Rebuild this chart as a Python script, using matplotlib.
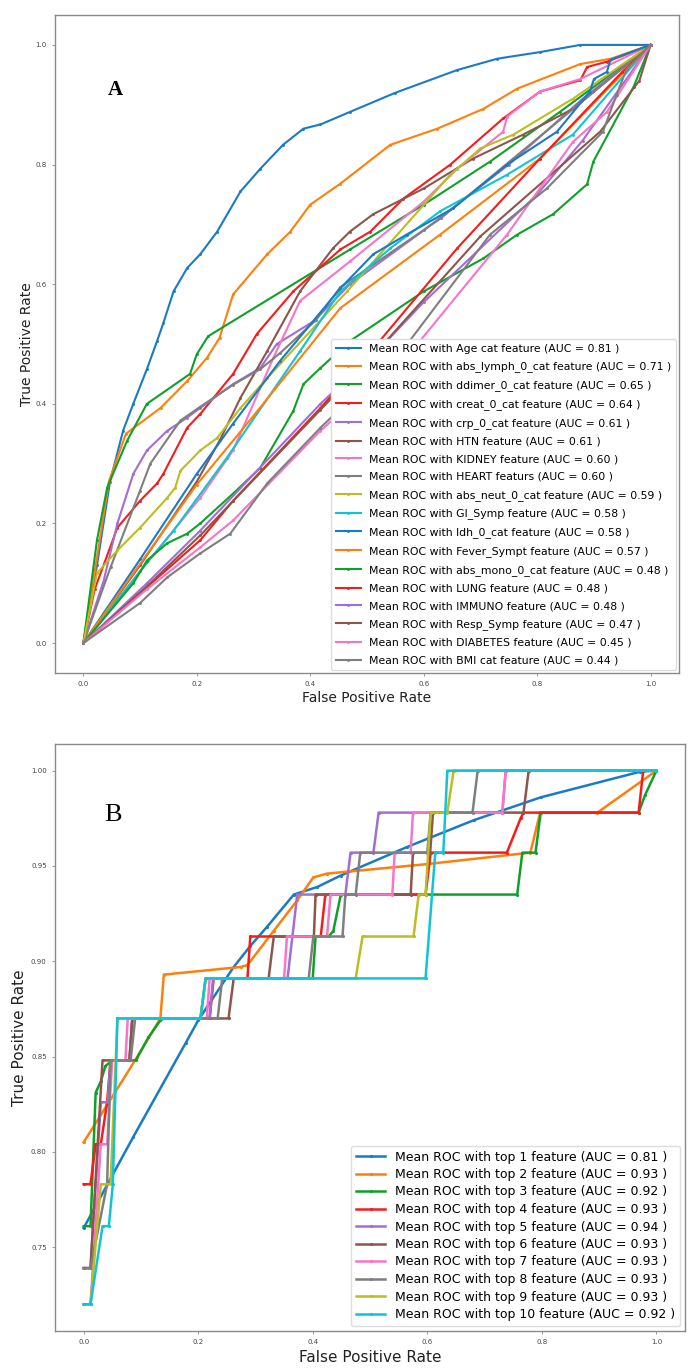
import matplotlib
matplotlib.use('Agg')
import matplotlib.pyplot as plt

# ---- panel A: mean ROC per single feature ----
a_names = ['Age cat', 'abs_lymph_0_cat', 'ddimer_0_cat', 'creat_0_cat', 'crp_0_cat', 'HTN',
           'KIDNEY', 'HEART', 'abs_neut_0_cat', 'GI_Symp', 'ldh_0_cat', 'Fever_Sympt',
           'abs_mono_0_cat', 'LUNG', 'IMMUNO', 'Resp_Symp', 'DIABETES', 'BMI cat']
a_auc = ['0.81', '0.71', '0.65', '0.64', '0.61', '0.61', '0.60', '0.60', '0.59',
         '0.58', '0.58', '0.57', '0.48', '0.48', '0.48', '0.47', '0.45', '0.44']
a_word = ['feature'] * 7 + ['featurs'] + ['feature'] * 10

a_fpr = [
    [0, 0.024, 0.047, 0.07, 0.088, 0.112, 0.13, 0.141, 0.159, 0.183, 0.206, 0.236, 0.277, 0.312, 0.352, 0.388, 0.418, 0.47, 0.55, 0.659, 0.73, 0.805, 0.876, 1.0],
    [0, 0.02, 0.045, 0.075, 0.136, 0.183, 0.218, 0.24, 0.264, 0.324, 0.365, 0.40, 0.453, 0.541, 0.624, 0.705, 0.765, 0.876, 0.93, 1.0],
    [0, 0.024, 0.042, 0.077, 0.112, 0.188, 0.2, 0.22, 0.47, 0.6, 0.717, 0.84, 1.0],
    [0, 0.02, 0.06, 0.1, 0.13, 0.141, 0.183, 0.206, 0.264, 0.306, 0.37, 0.453, 0.506, 0.564, 0.647, 0.74, 0.805, 0.876, 0.888, 0.923, 1.0],
    [0, 0.036, 0.06, 0.088, 0.112, 0.148, 0.183, 0.206, 0.264, 0.312, 0.341, 0.406, 0.47, 0.6, 0.75, 0.88, 1.0],
    [0, 0.1, 0.2, 0.241, 0.277, 0.324, 0.382, 0.44, 0.47, 0.511, 0.6, 0.687, 0.775, 0.863, 1.0],
    [0, 0.1, 0.206, 0.264, 0.335, 0.382, 0.47, 0.6, 0.659, 0.74, 0.747, 0.805, 0.876, 1.0],
    [0, 0.048, 0.1, 0.118, 0.171, 0.206, 0.264, 0.312, 0.347, 0.41, 0.453, 0.63, 1.0],
    [0, 0.024, 0.06, 0.1, 0.148, 0.162, 0.171, 0.206, 0.236, 0.277, 0.324, 0.465, 0.647, 0.70, 0.758, 0.863, 1.0],
    [0, 0.1, 0.159, 0.253, 0.382, 0.453, 0.541, 0.629, 0.747, 0.863, 1.0],
    [0, 0.1, 0.2, 0.264, 0.347, 0.453, 0.511, 0.57, 0.652, 0.747, 0.835, 0.893, 0.9, 0.923, 0.929, 1.0],
    [0, 0.2, 0.3, 0.453, 0.629, 0.805, 1.0],
    [0, 0.088, 0.112, 0.148, 0.183, 0.206, 0.264, 0.312, 0.37, 0.388, 0.418, 0.47, 0.6, 0.705, 0.765, 0.828, 0.888, 0.899, 0.97, 1.0],
    [0, 0.206, 0.264, 0.418, 0.518, 0.659, 0.805, 0.95, 1.0],
    [0, 0.112, 0.206, 0.418, 0.53, 0.6, 0.8, 0.88, 1.0],
    [0, 0.112, 0.206, 0.418, 0.529, 0.7, 0.911, 0.98, 1.0],
    [0, 0.112, 0.206, 0.264, 0.418, 0.589, 0.747, 0.863, 0.923, 1.0],
    [0, 0.1, 0.148, 0.206, 0.259, 0.324, 0.418, 0.571, 0.717, 0.817, 0.916, 0.94, 0.958, 1.0],
]
a_tpr = [
    [0, 0.13, 0.27, 0.355, 0.40, 0.458, 0.505, 0.535, 0.588, 0.627, 0.65, 0.688, 0.755, 0.793, 0.833, 0.86, 0.867, 0.888, 0.92, 0.958, 0.977, 0.988, 1.0, 1.0],
    [0, 0.12, 0.27, 0.35, 0.393, 0.438, 0.477, 0.51, 0.583, 0.65, 0.688, 0.733, 0.768, 0.833, 0.86, 0.893, 0.927, 0.968, 0.977, 1.0],
    [0, 0.172, 0.26, 0.338, 0.40, 0.45, 0.483, 0.513, 0.658, 0.733, 0.805, 0.888, 1.0],
    [0, 0.09, 0.193, 0.238, 0.267, 0.283, 0.36, 0.383, 0.45, 0.517, 0.588, 0.658, 0.688, 0.743, 0.80, 0.877, 0.922, 0.941, 0.963, 0.972, 1.0],
    [0, 0.105, 0.2, 0.283, 0.322, 0.355, 0.377, 0.393, 0.433, 0.46, 0.50, 0.538, 0.60, 0.69, 0.80, 0.91, 1.0],
    [0, 0.13, 0.27, 0.34, 0.41, 0.488, 0.588, 0.66, 0.688, 0.717, 0.76, 0.81, 0.85, 0.893, 1.0],
    [0, 0.12, 0.243, 0.322, 0.477, 0.572, 0.638, 0.738, 0.793, 0.855, 0.88, 0.922, 0.943, 1.0],
    [0, 0.127, 0.255, 0.30, 0.372, 0.395, 0.432, 0.458, 0.485, 0.54, 0.595, 0.71, 1.0],
    [0, 0.117, 0.155, 0.193, 0.243, 0.26, 0.288, 0.322, 0.343, 0.393, 0.443, 0.588, 0.783, 0.827, 0.85, 0.91, 1.0],
    [0, 0.12, 0.188, 0.31, 0.488, 0.588, 0.66, 0.722, 0.783, 0.85, 1.0],
    [0, 0.14, 0.283, 0.367, 0.472, 0.593, 0.65, 0.683, 0.727, 0.80, 0.855, 0.922, 0.943, 0.955, 0.975, 1.0],
    [0, 0.265, 0.38, 0.56, 0.683, 0.81, 1.0],
    [0, 0.1, 0.138, 0.167, 0.183, 0.20, 0.25, 0.293, 0.388, 0.433, 0.46, 0.505, 0.588, 0.643, 0.683, 0.717, 0.767, 0.805, 0.93, 1.0],
    [0, 0.172, 0.238, 0.393, 0.50, 0.66, 0.81, 0.955, 1.0],
    [0, 0.10, 0.188, 0.40, 0.50, 0.57, 0.75, 0.84, 1.0],
    [0, 0.095, 0.18, 0.39, 0.50, 0.68, 0.855, 0.94, 1.0],
    [0, 0.09, 0.16, 0.205, 0.355, 0.50, 0.683, 0.838, 0.888, 1.0],
    [0, 0.067, 0.11, 0.15, 0.183, 0.267, 0.36, 0.50, 0.683, 0.76, 0.855, 0.917, 0.96, 1.0],
]

# ---- panel B: mean ROC with top-n features ----
b_topn = [1, 2, 3, 4, 5, 6, 7, 8, 9, 10]
b_auc = ['0.81', '0.93', '0.92', '0.93', '0.94', '0.93', '0.93', '0.93', '0.93', '0.92']

b_fpr = [
    [0, 0.087, 0.178, 0.2, 0.262, 0.291, 0.32, 0.367, 0.408, 0.449, 0.565, 0.681, 0.798, 0.972, 1.0],
    [0, 0.094, 0.134, 0.14, 0.274, 0.286, 0.332, 0.373, 0.401, 0.425, 0.60, 0.78, 0.797, 0.897, 1.0],
    [0, 0.012, 0.021, 0.03, 0.038, 0.05, 0.091, 0.113, 0.134, 0.14, 0.204, 0.213, 0.40, 0.405, 0.428, 0.436, 0.449, 0.757, 0.766, 0.789, 0.798, 0.969, 0.98, 1.0],
    [0, 0.012, 0.021, 0.03, 0.041, 0.047, 0.08, 0.085, 0.22, 0.227, 0.286, 0.291, 0.414, 0.422, 0.597, 0.606, 0.739, 0.763, 0.768, 0.969, 0.977, 1.0],
    [0, 0.012, 0.03, 0.042, 0.047, 0.08, 0.085, 0.22, 0.226, 0.356, 0.373, 0.457, 0.466, 0.506, 0.515, 0.731, 0.737, 1.0],
    [0, 0.012, 0.033, 0.08, 0.085, 0.253, 0.262, 0.323, 0.332, 0.402, 0.405, 0.571, 0.575, 0.605, 0.61, 0.768, 0.777, 1.0],
    [0, 0.012, 0.03, 0.041, 0.05, 0.073, 0.077, 0.215, 0.22, 0.35, 0.355, 0.425, 0.431, 0.539, 0.543, 0.571, 0.575, 0.731, 0.737, 1.0],
    [0, 0.012, 0.041, 0.047, 0.082, 0.09, 0.234, 0.242, 0.393, 0.401, 0.452, 0.457, 0.475, 0.483, 0.60, 0.606, 0.679, 0.688, 1.0],
    [0, 0.012, 0.03, 0.047, 0.059, 0.204, 0.213, 0.475, 0.487, 0.576, 0.585, 0.597, 0.606, 0.635, 0.646, 1.0],
    [0, 0.012, 0.033, 0.044, 0.051, 0.059, 0.204, 0.213, 0.597, 0.614, 0.628, 0.635, 1.0],
]
b_tpr = [
    [0.76, 0.808, 0.857, 0.869, 0.897, 0.908, 0.918, 0.935, 0.939, 0.945, 0.96, 0.974, 0.986, 0.9995, 1.0],
    [0.805, 0.85, 0.870, 0.893, 0.897, 0.898, 0.916, 0.932, 0.944, 0.946, 0.951, 0.957, 0.978, 0.978, 1.0],
    [0.761, 0.761, 0.831, 0.837, 0.845, 0.848, 0.848, 0.86, 0.869, 0.870, 0.870, 0.891, 0.891, 0.913, 0.913, 0.916, 0.935, 0.935, 0.957, 0.957, 0.978, 0.978, 0.987, 1.0],
    [0.783, 0.783, 0.804, 0.804, 0.826, 0.848, 0.848, 0.870, 0.870, 0.891, 0.891, 0.913, 0.913, 0.935, 0.935, 0.957, 0.957, 0.975, 0.978, 0.978, 1.0, 1.0],
    [0.739, 0.739, 0.826, 0.826, 0.848, 0.848, 0.870, 0.870, 0.891, 0.891, 0.935, 0.935, 0.957, 0.957, 0.978, 0.978, 1.0, 1.0],
    [0.739, 0.739, 0.848, 0.848, 0.870, 0.870, 0.891, 0.891, 0.913, 0.913, 0.935, 0.935, 0.957, 0.957, 0.978, 0.978, 1.0, 1.0],
    [0.72, 0.72, 0.804, 0.804, 0.848, 0.848, 0.870, 0.870, 0.891, 0.891, 0.913, 0.913, 0.935, 0.935, 0.957, 0.957, 0.978, 0.978, 1.0, 1.0],
    [0.739, 0.739, 0.783, 0.848, 0.848, 0.870, 0.870, 0.891, 0.891, 0.913, 0.913, 0.935, 0.935, 0.957, 0.957, 0.978, 0.978, 1.0, 1.0],
    [0.72, 0.72, 0.783, 0.783, 0.870, 0.870, 0.891, 0.891, 0.913, 0.913, 0.935, 0.935, 0.978, 0.978, 1.0, 1.0],
    [0.72, 0.72, 0.761, 0.761, 0.783, 0.870, 0.870, 0.891, 0.891, 0.957, 0.957, 1.0, 1.0],
]

# a bit brighter than plain tab10, like the scanned figure
colors = ['#1a7bc4', '#ff7f0e', '#0fa02a', '#f51c1c', '#a36dd2',
          '#8c564b', '#f774c9', '#7f7f7f', '#bcbd22', '#10c5d3']

W, H = 696, 1372
fig = plt.figure(figsize=(W / 100, H / 100), dpi=100)


def style_axes(ax, tick_size):
    for s in ax.spines.values():
        s.set_color('#8a8a8a')
        s.set_linewidth(1.0)
    ax.tick_params(labelsize=tick_size, length=2, width=0.6, color='#8a8a8a', labelcolor='#444444', pad=4)


# panel A
ax_a = fig.add_axes([55 / W, 1 - 673 / H, 624 / W, 658 / H])
for i in range(len(a_names)):
    lbl = 'Mean ROC with %s %s (AUC = %s )' % (a_names[i], a_word[i], a_auc[i])
    ax_a.plot(a_fpr[i], a_tpr[i], color=colors[i % 10], lw=1.5, marker='.', ms=2.2, label=lbl)
ax_a.set_xlim(-0.05, 1.05)
ax_a.set_ylim(-0.05, 1.05)
ax_a.set_xticks([0, 0.2, 0.4, 0.6, 0.8, 1.0])
ax_a.set_yticks([0, 0.2, 0.4, 0.6, 0.8, 1.0])
style_axes(ax_a, 5)
ax_a.set_xlabel('False Positive Rate', fontsize=10, color='#222222', labelpad=3)
ax_a.set_ylabel('True Positive Rate', fontsize=10, color='#222222', labelpad=1)
ax_a.legend(loc='lower right', fontsize=7.8, handlelength=2.3, labelspacing=0.72,
            borderaxespad=0.3, framealpha=1.0, edgecolor='#dddddd', fancybox=True)

# panel B
ax_b = fig.add_axes([55 / W, 1 - 1331 / H, 630 / W, 587 / H])
for i in range(len(b_topn)):
    lbl = 'Mean ROC with top %d feature (AUC = %s )' % (b_topn[i], b_auc[i])
    ax_b.plot(b_fpr[i], b_tpr[i], color=colors[i], lw=1.8, marker='.', ms=2.5, label=lbl)
ax_b.set_xlim(-0.05, 1.05)
ax_b.set_ylim(0.706, 1.014)
ax_b.set_xticks([0, 0.2, 0.4, 0.6, 0.8, 1.0])
ax_b.set_yticks([0.75, 0.80, 0.85, 0.90, 0.95, 1.00])
style_axes(ax_b, 5)
ax_b.set_xlabel('False Positive Rate', fontsize=11, color='#222222', labelpad=3)
ax_b.set_ylabel('True Positive Rate', fontsize=11, color='#222222', labelpad=3)
ax_b.legend(loc='lower right', fontsize=9, handlelength=2.3, labelspacing=0.36,
            borderaxespad=0.4, framealpha=1.0, edgecolor='#dddddd', fancybox=True)

# panel letters
fig.text(115 / W, 1 - 90 / H, 'A', ha='center', va='center', fontsize=15,
         fontweight='bold', family='Liberation Serif')
fig.text(113 / W, 1 - 815 / H, 'B', ha='center', va='center', fontsize=19,
         family='Liberation Serif')

fig.savefig('out.png', dpi=100)
